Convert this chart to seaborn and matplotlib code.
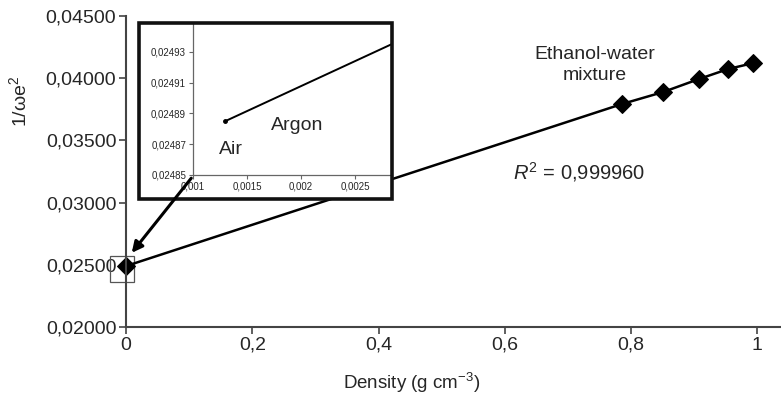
import matplotlib
matplotlib.use('Agg')
import matplotlib.pyplot as plt
import matplotlib.patches as patches
import seaborn as sns
import pandas as pd
from matplotlib.ticker import FuncFormatter

# main series: density vs 1/(omega e^2)
density = [0.0, 0.786, 0.851, 0.908, 0.954, 0.994]
inv_we2 = [0.02490, 0.03793, 0.03889, 0.03994, 0.04074, 0.04122]

# zoomed gas region (air -> argon)
gas_density = [0.0013, 0.00284]
gas_inv_we2 = [0.024885, 0.024935]

main_yticks = [0.020, 0.025, 0.030, 0.035, 0.040, 0.045]
main_xticks = [0, 0.2, 0.4, 0.6, 0.8, 1.0]
inset_xticks = [0.001, 0.0015, 0.002, 0.0025]
inset_yticks = [0.02485, 0.02487, 0.02489, 0.02491, 0.02493]

sns.set_style('ticks')
plt.rcParams['font.family'] = ['Liberation Sans', 'DejaVu Sans']
plt.rcParams['mathtext.fontset'] = 'custom'
plt.rcParams['mathtext.rm'] = 'Liberation Sans'
plt.rcParams['mathtext.it'] = 'Liberation Sans:italic'

W, H = 781, 398
fig = plt.figure(figsize=(W / 100, H / 100), dpi=100)

def px(x0, y0, x1, y1):
    # pixel box (top-left origin) -> figure fraction rect
    return [x0 / W, 1 - y1 / H, (x1 - x0) / W, (y1 - y0) / H]

ax = fig.add_axes(px(126, 16, 780, 327))
df = pd.DataFrame({'density': density, 'inv': inv_we2})
sns.lineplot(data=df, x='density', y='inv', ax=ax, color='black', linewidth=1.8,
             marker='D', markersize=9, markeredgecolor='black', clip_on=False)
ax.set_xlim(0, 1.036)
ax.set_ylim(0.020, 0.045)
ax.set_xticks(main_xticks)
ax.set_yticks(main_yticks)
ax.xaxis.set_major_formatter(FuncFormatter(lambda v, p: ('%g' % v).replace('.', ',')))
ax.yaxis.set_major_formatter(FuncFormatter(lambda v, p: ('%.5f' % v).replace('.', ',')))
ax.tick_params(labelsize=14, length=5, width=1.2, color='#444444', pad=2)
for s in ['top', 'right']:
    ax.spines[s].set_visible(False)
for s in ['left', 'bottom']:
    ax.spines[s].set_color('#444444')
    ax.spines[s].set_linewidth(1.5)
ax.set_xlabel('Density (g cm$^{-3}$)', fontsize=13.5)
ax.xaxis.set_label_coords((412 - 126) / 654, -0.142)
ax.set_ylabel('1/ωe$^2$', fontsize=14)
ax.yaxis.set_label_coords(-0.146, (327 - 101) / 311)

ax.text(595, H - 65, 'Ethanol-water\nmixture', transform=None, ha='center', va='center',
        fontsize=14, linespacing=1.25)
ax.text(513, H - 172, '$R^2$ = 0,999960', transform=None, ha='left', va='center', fontsize=14.5)

# small box round the zero-density point
ax.add_patch(patches.Rectangle((-0.025, 0.02362), 0.0377, 0.00209, fill=False,
                               edgecolor='#555555', linewidth=0.9, clip_on=False))

# inset
ins = fig.add_axes(px(193, 24, 392, 175))
sns.lineplot(x=gas_density, y=gas_inv_we2, ax=ins, color='black', linewidth=1.4)
ins.plot(gas_density[:1], gas_inv_we2[:1], marker='o', markersize=2.5, color='black')
ins.set_xlim(0.001, 0.00284)
ins.set_ylim(0.02485, 0.024948)
ins.set_xticks(inset_xticks)
ins.set_yticks(inset_yticks)
ins.set_xticklabels([('%g' % v).replace('.', ',') for v in inset_xticks])
ins.set_yticklabels([('%.5f' % v).replace('.', ',') for v in inset_yticks])
ins.tick_params(labelsize=7, length=3, width=0.8, color='#666666', pad=2)
for s in ['top', 'right']:
    ins.spines[s].set_visible(False)
for s in ['left', 'bottom']:
    ins.spines[s].set_color('#666666')
    ins.spines[s].set_linewidth(0.9)
ins.text(297, H - 125, 'Argon', transform=None, ha='center', va='center', fontsize=14)
ins.text(231, H - 149, 'Air', transform=None, ha='center', va='center', fontsize=14)

# white backing and thick frame of the inset
fig.patches.append(patches.Rectangle((139 / W, 1 - 199 / H), 253 / W, 176 / H,
                                     transform=fig.transFigure, facecolor='white',
                                     edgecolor='none', zorder=1.5))
ins.set_zorder(3)
ins.patch.set_alpha(0)
frame = patches.Rectangle((139 / W, 1 - 199 / H), 253 / W, 176 / H,
                          transform=fig.transFigure, fill=False, edgecolor='#111111',
                          linewidth=2.6, zorder=10)
fig.patches.append(frame)

# arrow from inset origin to the point
fig.add_artist(patches.FancyArrowPatch((193 / W, 1 - 176 / H), (130 / W, 1 - 255 / H),
                                       transform=fig.transFigure, arrowstyle='-|>',
                                       mutation_scale=16, linewidth=2.2, color='black',
                                       zorder=11))

fig.savefig('out.png', dpi=100)
